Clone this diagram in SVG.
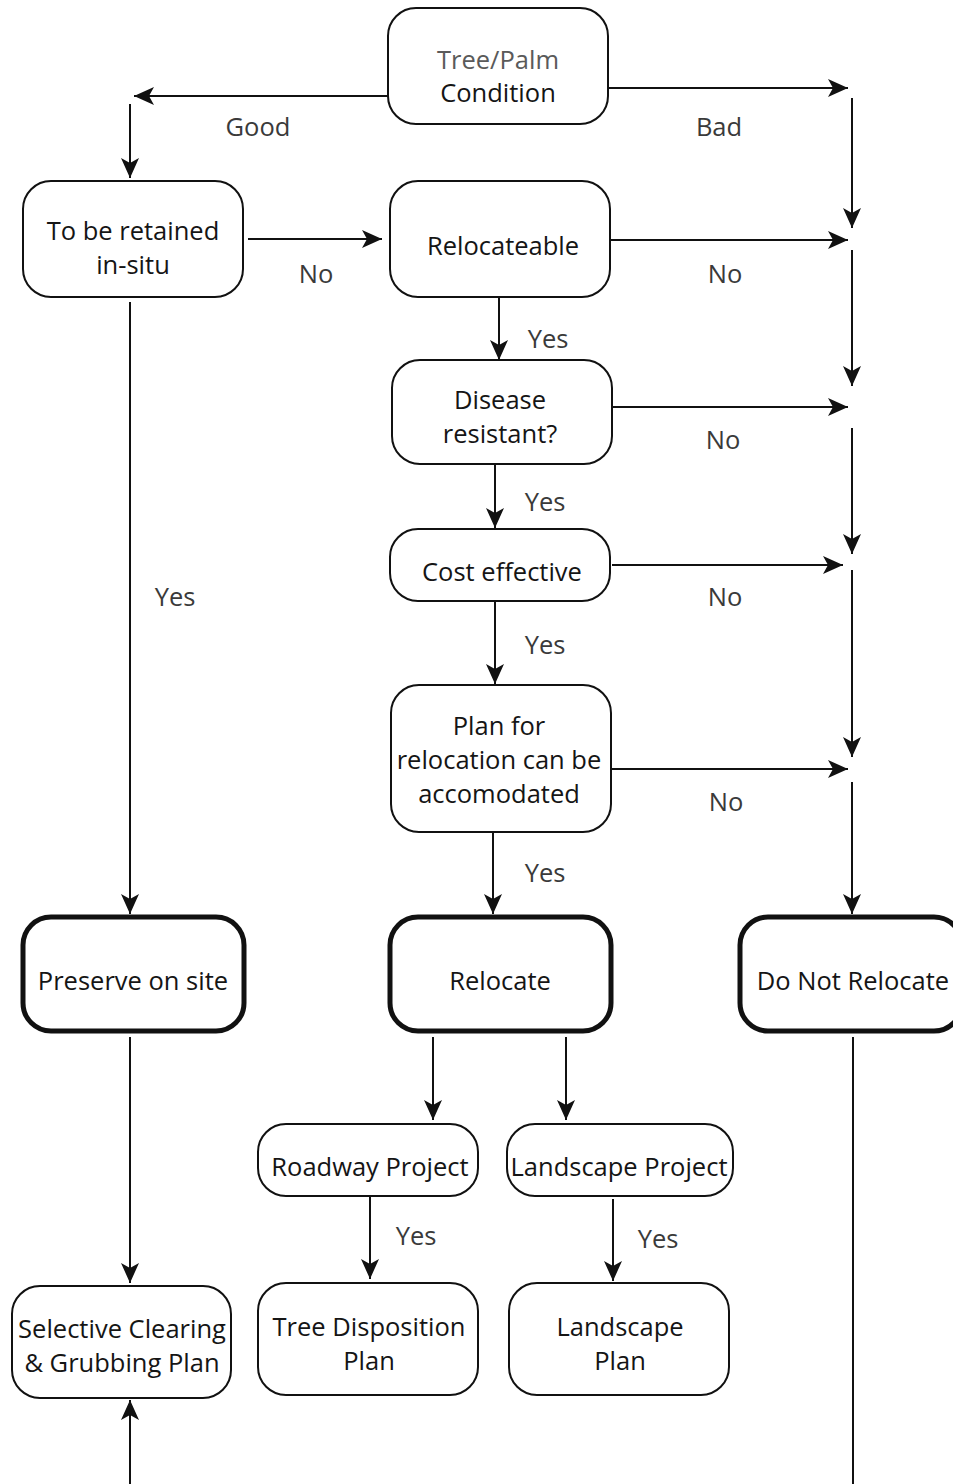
<svg xmlns="http://www.w3.org/2000/svg" width="953" height="1484" viewBox="0 0 953 1484">
<style>
.box{fill:#fff;stroke:#111;stroke-width:2}
.bold{fill:#fff;stroke:#111;stroke-width:5}
.t{font-family:"Open Sans","DejaVu Sans",sans-serif;font-size:25.5px;fill:#151515;text-anchor:middle}
.g{fill:#5a5a5a}
.lbl{font-family:"Open Sans","DejaVu Sans",sans-serif;font-size:25.5px;fill:#3a3a3a;text-anchor:middle}
.c{stroke:#111;stroke-width:2;fill:none;marker-end:url(#ah)}
.p{stroke:#111;stroke-width:2;fill:none}
</style>
<defs>
<marker id="ah" markerUnits="userSpaceOnUse" viewBox="0 0 20 18" refX="20" refY="9" markerWidth="20" markerHeight="18" orient="auto">
<path d="M0,0 L20,9 L0,18 L5,9 z" fill="#111"/>
</marker>
</defs>
<rect width="953" height="1484" fill="#fff"/>
<g id="connectors">
<path class="c" d="M388,96 H134"/>
<path class="c" d="M130,104 V178"/>
<path class="c" d="M608,88 H848"/>
<path class="c" d="M852,98 V228"/>
<path class="c" d="M248,239 H382"/>
<path class="c" d="M610,240 H848"/>
<path class="c" d="M852,250 V386"/>
<path class="c" d="M499,297 V360"/>
<path class="c" d="M612,407 H848"/>
<path class="c" d="M852,428 V554"/>
<path class="c" d="M495,464 V528"/>
<path class="c" d="M612,565 H843"/>
<path class="c" d="M852,570 V757"/>
<path class="c" d="M495,601 V684"/>
<path class="c" d="M612,769 H848"/>
<path class="c" d="M852,782 V914"/>
<path class="c" d="M493,832 V914"/>
<path class="c" d="M130,302 V914"/>
<path class="c" d="M130,1037 V1283"/>
<path class="c" d="M433,1037 V1120"/>
<path class="c" d="M566,1037 V1120"/>
<path class="c" d="M370,1196 V1279"/>
<path class="c" d="M613,1199 V1281"/>
<path class="c" d="M130,1484 V1400"/>
<path class="p" d="M853,1037 V1484"/>
<text class="lbl" x="258" y="136">Good</text>
<text class="lbl" x="719" y="136">Bad</text>
<text class="lbl" x="316" y="283">No</text>
<text class="lbl" x="725" y="283">No</text>
<text class="lbl" x="548" y="348">Yes</text>
<text class="lbl" x="723" y="449">No</text>
<text class="lbl" x="545" y="511">Yes</text>
<text class="lbl" x="725" y="606">No</text>
<text class="lbl" x="545" y="654">Yes</text>
<text class="lbl" x="175" y="606">Yes</text>
<text class="lbl" x="726" y="811">No</text>
<text class="lbl" x="545" y="882">Yes</text>
<text class="lbl" x="416" y="1245">Yes</text>
<text class="lbl" x="658" y="1248">Yes</text>
</g>
<g id="n-condition"><rect class="box" x="388" y="8" width="220" height="116" rx="28"/><text class="t g" x="498" y="69">Tree/Palm</text><text class="t" x="498" y="102">Condition</text></g>
<g id="n-retained"><rect class="box" x="23" y="181" width="220" height="116" rx="28"/><text class="t" x="133" y="240">To be retained</text><text class="t" x="133" y="274">in-situ</text></g>
<g id="n-relocateable"><rect class="box" x="390" y="181" width="220" height="116" rx="28"/><text class="t" x="503" y="255">Relocateable</text></g>
<g id="n-disease"><rect class="box" x="392" y="360" width="220" height="104" rx="28"/><text class="t" x="500" y="409">Disease</text><text class="t" x="500" y="443">resistant?</text></g>
<g id="n-cost"><rect class="box" x="390" y="529" width="220" height="72" rx="28"/><text class="t" x="502" y="581">Cost effective</text></g>
<g id="n-plan"><rect class="box" x="391" y="685" width="220" height="147" rx="28"/><text class="t" x="499" y="735">Plan for</text><text class="t" x="499" y="769">relocation can be</text><text class="t" x="499" y="803">accomodated</text></g>
<g id="n-preserve"><rect class="bold" x="23" y="917" width="221" height="114" rx="28"/><text class="t" x="133" y="990">Preserve on site</text></g>
<g id="n-relocate"><rect class="bold" x="390" y="917" width="221" height="114" rx="28"/><text class="t" x="500" y="990">Relocate</text></g>
<g id="n-donot"><rect class="bold" x="740" y="917" width="222" height="114" rx="28"/><text class="t" x="853" y="990">Do Not Relocate</text></g>
<g id="n-roadway"><rect class="box" x="258" y="1124" width="220" height="72" rx="28"/><text class="t" x="370" y="1176">Roadway Project</text></g>
<g id="n-landscape-project"><rect class="box" x="507" y="1124" width="226" height="72" rx="28"/><text class="t" x="619" y="1176">Landscape Project</text></g>
<g id="n-selective"><rect class="box" x="12" y="1286" width="219" height="112" rx="28"/><text class="t" x="122" y="1338">Selective Clearing</text><text class="t" x="122" y="1372">&amp; Grubbing Plan</text></g>
<g id="n-disposition"><rect class="box" x="258" y="1283" width="220" height="112" rx="28"/><text class="t" x="369" y="1336">Tree Disposition</text><text class="t" x="369" y="1370">Plan</text></g>
<g id="n-landscape-plan"><rect class="box" x="509" y="1283" width="220" height="112" rx="28"/><text class="t" x="620" y="1336">Landscape</text><text class="t" x="620" y="1370">Plan</text></g>
</svg>
